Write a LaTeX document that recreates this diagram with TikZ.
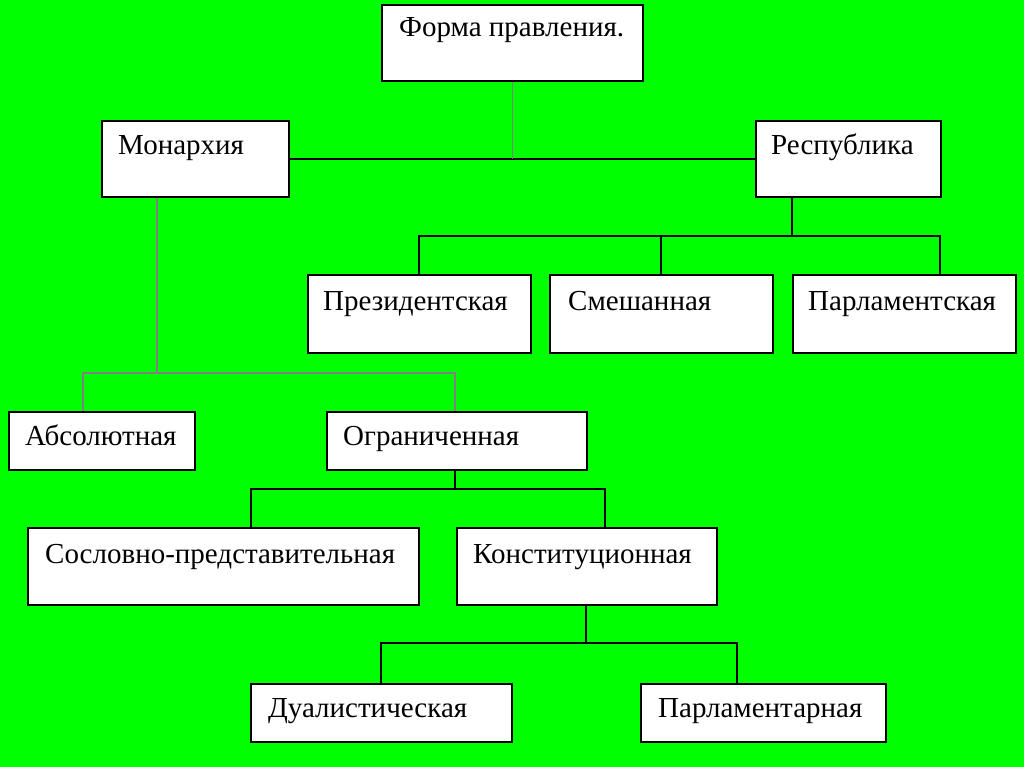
\documentclass[tikz,border=0pt]{standalone}
\usepackage{fontspec}
\setmainfont{Liberation Serif}
\usetikzlibrary{calc}
\definecolor{bg}{RGB}{0,255,0}
\definecolor{gline}{RGB}{128,128,128}
\begin{document}
\begin{tikzpicture}[x=1pt,y=-1pt,
  box/.style={draw=black,fill=white,line width=1.8pt,rectangle,anchor=north west,inner sep=0pt},
  lbl/.style={anchor=base west,inner sep=0pt,font=\fontsize{29}{31}\selectfont},
  conn/.style={draw=black,line width=1.5pt},
  gconn/.style={draw=gline,line width=1.8pt}]
\fill[bg] (0,0) rectangle (1024,767);
\useasboundingbox (0,0) rectangle (1024,767);
% boxes
\newcommand{\mybox}[5]{\node[box,minimum width=#4-#2,minimum height=#5-#3] (#1) at (#2,#3) {};}
\mybox{forma}{381}{4}{642}{80}
\mybox{mon}{101}{120}{288}{196}
\mybox{resp}{755}{120}{940}{196}
\mybox{prez}{307}{274}{530}{352}
\mybox{smesh}{549}{274}{772}{352}
\mybox{parl}{792}{274}{1015}{352}
\mybox{abs}{8}{411}{194}{469}
\mybox{ogr}{326}{411}{586}{469}
\mybox{sosl}{27}{527}{418}{604}
\mybox{konst}{456}{527}{716}{604}
\mybox{dual}{250}{683}{511}{741}
\mybox{parlm}{640}{683}{885}{741}
% labels
\node[lbl] (formaT) at (399,37) {Форма правления.};
\node[lbl] (monT) at (118,155) {Монархия};
\node[lbl] (respT) at (771,155) {Республика};
\node[lbl] (prezT) at (323,310) {Президентская};
\node[lbl] (smeshT) at (568,310) {Смешанная};
\node[lbl] (parlT) at (808,310) {Парламентская};
\node[lbl] (absT) at (25,445) {Абсолютная};
\node[lbl] (ogrT) at (343,445) {Ограниченная};
\node[lbl] (soslT) at (45,563) {Сословно-представительная};
\node[lbl] (konstT) at (473,563) {Конституционная};
\node[lbl] (dualT) at (268,717) {Дуалистическая};
\node[lbl] (parlmT) at (658,717) {Парламентарная};
% junctions
\coordinate (j1) at (512.5,159);
\coordinate (j2) at (792,236);
\coordinate (j3) at (157,373);
\coordinate (j4) at (455,489);
\coordinate (j5) at (586,643);
% connectors
\draw[conn] (mon.east |- j1) -- (resp.west |- j1);
\draw[gconn] (forma.south -| j1) -- (j1);
\draw[conn] (resp.south -| j2) -- (j2);
\draw[conn] (prez.north -| 419,0) -- (419,236) -- (940,236) -- (parl.north -| 940,0);
\draw[conn] (smesh.north -| 661,0) -- (661,236);
\draw[gconn] (mon.south -| j3) -- (j3);
\draw[gconn] (abs.north -| 83,0) -- (83,373) -- (455,373) -- (ogr.north -| 455,0);
\draw[conn] (ogr.south -| j4) -- (j4);
\draw[conn] (sosl.north -| 251,0) -- (251,489) -- (605,489) -- (konst.north -| 605,0);
\draw[conn] (konst.south -| j5) -- (j5);
\draw[conn] (dual.north -| 381,0) -- (381,643) -- (737,643) -- (parlm.north -| 737,0);
\end{tikzpicture}
\end{document}
